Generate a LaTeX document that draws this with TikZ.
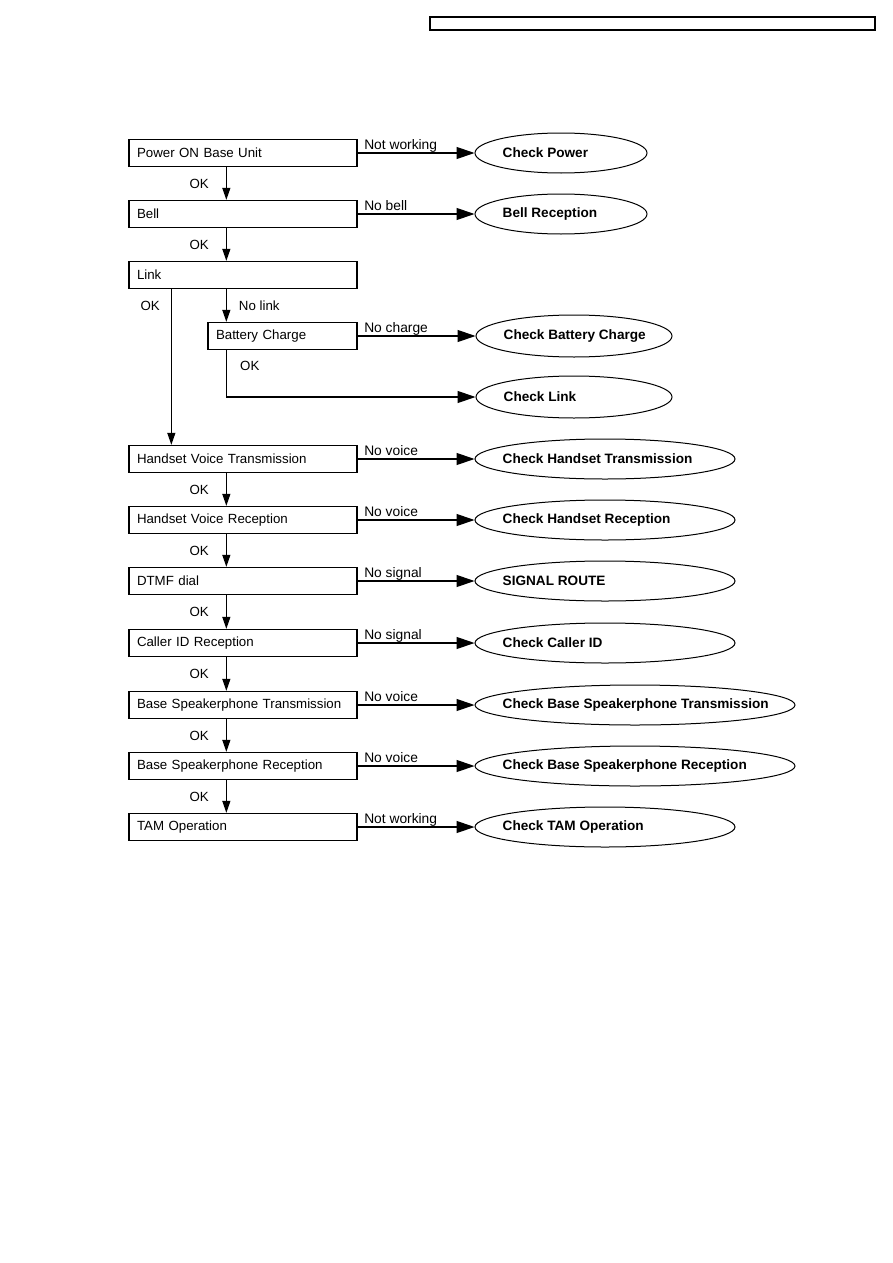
\documentclass[tikz,border=0pt]{standalone}
\usepackage{fontspec}
\setmainfont{Liberation Sans}
\usepackage{tikz}
\usetikzlibrary{shapes.geometric,arrows.meta,positioning,calc}

\begin{document}
\begin{tikzpicture}[
    x=1pt, y=1pt,
    font=\fontsize{13.3}{16}\selectfont,
    box/.style={rectangle, draw=black, line width=1.3pt, minimum height=27pt, inner xsep=8pt, inner ysep=0pt, text width=212pt, align=left},
    ellip/.style={ellipse, draw=black, line width=1pt, minimum height=40pt, inner sep=0pt},
    etext/.style={anchor=west, inner sep=0pt, font=\fontsize{13.6}{16}\selectfont\bfseries},
    harrow/.style={-{Triangle[length=18pt, width=12pt]}, line width=1.2pt},
    varrow/.style={-{Triangle[length=12pt, width=8pt]}, line width=1.2pt},
    lbl/.style={anchor=base west, inner sep=0pt, font=\fontsize{13.8}{16}\selectfont},
    oklbl/.style={anchor=east, inner sep=0pt},
]
\useasboundingbox (0,0) rectangle (893,-1263);

% Header box
\node[draw=black, line width=1.2pt, minimum width=445pt, minimum height=13pt, inner sep=0pt] (header) at (652.5,-23.5) {};

% Main chain
\node[box] (pwr) at (243,-153) {Power ON Base Unit};
\node[box] (bell) at (243,-214) {Bell};
\node[box] (link) at (243,-275) {Link};
\node[box, text width=133pt] (batt) at (282.5,-336) {Battery Charge};
\node[box] (hvt) at (243,-459) {Handset Voice Transmission};
\node[box] (hvr) at (243,-520) {Handset Voice Reception};
\node[box] (dtmf) at (243,-581) {DTMF dial};
\node[box] (cid) at (243,-643) {Caller ID Reception};
\node[box] (bst) at (243,-705) {Base Speakerphone Transmission};
\node[box] (bsr) at (243,-766) {Base Speakerphone Reception};
\node[box] (tam) at (243,-827) {TAM Operation};

% Checks
\node[ellip, minimum width=172pt] (cpow) at (561,-153) {};
\node[etext] (cpowt) at ([xshift=28pt]cpow.west) {Check Power};
\node[ellip, minimum width=172pt] (bellr) at (561,-214) {};
\node[etext] (bellrt) at ([xshift=28pt]bellr.west) {Bell Reception};
\node[ellip, minimum width=196pt, minimum height=42pt] (cbat) at (574,-336) {};
\node[etext] (cbatt) at ([xshift=28pt]cbat.west) {Check Battery Charge};
\node[ellip, minimum width=196pt, minimum height=42pt] (clink) at (574,-397) {};
\node[etext] (clinkt) at ([xshift=28pt]clink.west) {Check Link};
\node[ellip, minimum width=260pt] (chvt) at (605,-459) {};
\node[etext] (chvtt) at ([xshift=28pt]chvt.west) {Check Handset Transmission};
\node[ellip, minimum width=260pt] (chvr) at (605,-520) {};
\node[etext] (chvrt) at ([xshift=28pt]chvr.west) {Check Handset Reception};
\node[ellip, minimum width=260pt] (sigr) at (605,-581) {};
\node[etext] (sigrt) at ([xshift=28pt]sigr.west) {SIGNAL ROUTE};
\node[ellip, minimum width=260pt] (ccid) at (605,-643) {};
\node[etext] (ccidt) at ([xshift=28pt]ccid.west) {Check Caller ID};
\node[ellip, minimum width=320pt] (cbst) at (635,-705) {};
\node[etext] (cbstt) at ([xshift=28pt]cbst.west) {Check Base Speakerphone Transmission};
\node[ellip, minimum width=320pt] (cbsr) at (635,-766) {};
\node[etext] (cbsrt) at ([xshift=28pt]cbsr.west) {Check Base Speakerphone Reception};
\node[ellip, minimum width=260pt] (ctam) at (605,-827) {};
\node[etext] (ctamt) at ([xshift=28pt]ctam.west) {Check TAM Operation};

% Failure branches
\draw[harrow] (pwr.east) -- (cpow.west) node[lbl, pos=0, xshift=6pt, yshift=3.5pt] {Not working};
\draw[harrow] (bell.east) -- (bellr.west) node[lbl, pos=0, xshift=6pt, yshift=3.5pt] {No bell};
\draw[harrow] (batt.east) -- (cbat.west) node[lbl, pos=0, xshift=6pt, yshift=3.5pt] {No charge};
\draw[harrow] (hvt.east) -- (chvt.west) node[lbl, pos=0, xshift=6pt, yshift=3.5pt] {No voice};
\draw[harrow] (hvr.east) -- (chvr.west) node[lbl, pos=0, xshift=6pt, yshift=3.5pt] {No voice};
\draw[harrow] (dtmf.east) -- (sigr.west) node[lbl, pos=0, xshift=6pt, yshift=3.5pt] {No signal};
\draw[harrow] (cid.east) -- (ccid.west) node[lbl, pos=0, xshift=6pt, yshift=3.5pt] {No signal};
\draw[harrow] (bst.east) -- (cbst.west) node[lbl, pos=0, xshift=6pt, yshift=3.5pt] {No voice};
\draw[harrow] (bsr.east) -- (cbsr.west) node[lbl, pos=0, xshift=6pt, yshift=3.5pt] {No voice};
\draw[harrow] (tam.east) -- (ctam.west) node[lbl, pos=0, xshift=6pt, yshift=3.5pt] {Not working};

% OK chain
\draw[varrow] ($(pwr.south west)+(98,0)$) -- node[oklbl, xshift=-17pt] (ok1) {OK} ($(bell.north west)+(98,0)$);
\draw[varrow] ($(bell.south west)+(98,0)$) -- node[oklbl, xshift=-17pt] (ok2) {OK} ($(link.north west)+(98,0)$);
\draw[varrow] ($(hvt.south west)+(98,0)$) -- node[oklbl, xshift=-17pt] (ok3) {OK} ($(hvr.north west)+(98,0)$);
\draw[varrow] ($(hvr.south west)+(98,0)$) -- node[oklbl, xshift=-17pt] (ok4) {OK} ($(dtmf.north west)+(98,0)$);
\draw[varrow] ($(dtmf.south west)+(98,0)$) -- node[oklbl, xshift=-17pt] (ok5) {OK} ($(cid.north west)+(98,0)$);
\draw[varrow] ($(cid.south west)+(98,0)$) -- node[oklbl, xshift=-17pt] (ok6) {OK} ($(bst.north west)+(98,0)$);
\draw[varrow] ($(bst.south west)+(98,0)$) -- node[oklbl, xshift=-17pt] (ok7) {OK} ($(bsr.north west)+(98,0)$);
\draw[varrow] ($(bsr.south west)+(98,0)$) -- node[oklbl, xshift=-17pt] (ok8) {OK} ($(tam.north west)+(98,0)$);

% Link branches
\coordinate (linkok) at ($(link.south west)+(43,0)$);
\coordinate (linkno) at ($(link.south west)+(98,0)$);
\draw[varrow] (linkok) -- node[oklbl, pos=0.11, xshift=-11pt] (ok9) {OK} (linkok |- hvt.north);
\draw[varrow] (linkno) -- node[anchor=west, inner sep=0pt, xshift=12pt] (nolink) {No link} (linkno |- batt.north);
\draw[harrow] ($(batt.south west)+(19,0)$) |- (clink.west);
\node[anchor=west, inner sep=0pt] (ok10) at (240,-366) {OK};

\end{tikzpicture}
\end{document}
